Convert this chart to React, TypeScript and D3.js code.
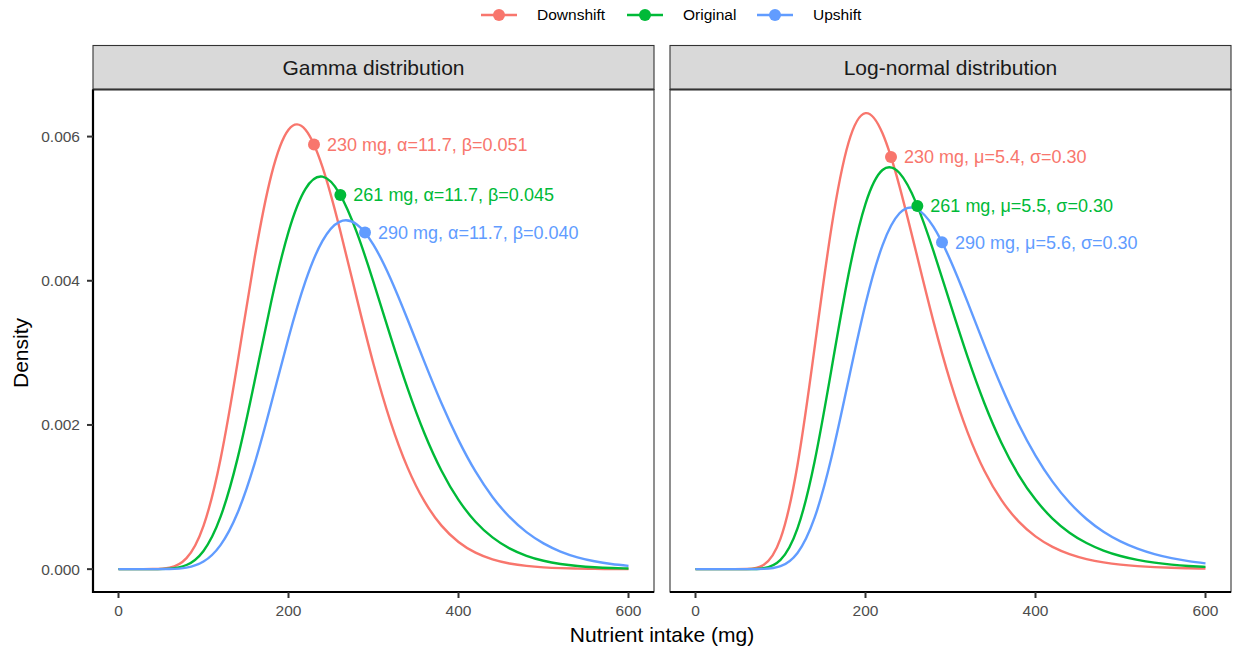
import React from "react";
import * as d3 from "d3";

// intake grid (mg) shared by every curve
const intake = [
  0, 20, 40, 60, 80, 100, 120, 140, 160, 180, 200, 220, 240, 260, 280, 300,
  320, 340, 360, 380, 400, 420, 440, 460, 480, 500, 520, 540, 560, 580, 600,
];

// gamma densities
const gammaDown = [
  0, 0, 0.000001, 0.0000195, 0.000153, 0.000601, 0.001525, 0.002861, 0.004307, 0.005476,
  0.006096, 0.006095, 0.005576, 0.004735, 0.003773, 0.002846, 0.002047, 0.001412, 0.000939,
  0.000604, 0.000377, 0.000229, 0.000136, 0.0000788, 0.0000448, 0.000025, 0.0000137,
  0.0000074, 0.0000039, 0.0000021, 0.0000011,
];
const gammaOrig = [
  0, 0, 0.0000002, 0.0000065, 0.0000572, 0.000253, 0.000724, 0.001533, 0.0026, 0.003728,
  0.004679, 0.005275, 0.005444, 0.00521, 0.004681, 0.003982, 0.003229, 0.002511, 0.001882,
  0.001365, 0.00096, 0.000658, 0.00044, 0.000288, 0.000185, 0.000116, 0.0000719, 0.0000438,
  0.0000263, 0.0000155, 0.0000091,
];
const gammaUp = [
  0, 0, 0, 0.0000022, 0.0000215, 0.000105, 0.000333, 0.000778, 0.001459, 0.002311, 0.003207,
  0.003994, 0.004554, 0.004818, 0.004785, 0.004498, 0.004032, 0.003466, 0.002871, 0.0023,
  0.00179, 0.001355, 0.001002, 0.000724, 0.000513, 0.000357, 0.000244, 0.000164, 0.000109,
  0.0000712, 0.000046,
];

// log-normal densities
const lnormDown = [
  0, 0, 0, 0.0000019, 0.0000568, 0.000423, 0.001445, 0.003061, 0.00474, 0.005914, 0.006325,
  0.006045, 0.00531, 0.004376, 0.003433, 0.002593, 0.001901, 0.001361, 0.000957, 0.000663,
  0.000455, 0.000309, 0.000209, 0.00014, 0.0000938, 0.0000626, 0.0000417, 0.0000278,
  0.0000185, 0.0000123, 0.0000082,
];
const lnormOrig = [
  0, 0, 0, 0.0000003, 0.0000126, 0.000128, 0.000565, 0.001486, 0.002775, 0.004086, 0.005067,
  0.005536, 0.005494, 0.005067, 0.004411, 0.003671, 0.002947, 0.002298, 0.001751, 0.001309,
  0.000965, 0.000702, 0.000506, 0.000362, 0.000257, 0.000182, 0.000128, 0.0000898, 0.0000629,
  0.000044, 0.0000308,
];
const lnormUp = [
  0, 0, 0, 0, 0.0000031, 0.0000412, 0.000225, 0.00071, 0.001551, 0.00262, 0.003677, 0.004491,
  0.004936, 0.004999, 0.004746, 0.004282, 0.003707, 0.003103, 0.002529, 0.002014, 0.001576,
  0.001214, 0.000924, 0.000696, 0.000519, 0.000385, 0.000284, 0.000208, 0.000152, 0.000111,
  0.0000808,
];

const scenarios = ["Downshift", "Original", "Upshift"];
const colors = ["#F8766D", "#00BA38", "#619CFF"];
const meanIntake = [230, 261, 290];
const gammaAtMean = [0.00589, 0.00519, 0.00467];
const lnormAtMean = [0.005717, 0.005038, 0.004534];
const gammaLabels = [
  "230 mg, α=11.7, β=0.051",
  "261 mg, α=11.7, β=0.045",
  "290 mg, α=11.7, β=0.040",
];
const lnormLabels = [
  "230 mg, μ=5.4, σ=0.30",
  "261 mg, μ=5.5, σ=0.30",
  "290 mg, μ=5.6, σ=0.30",
];
const xTicks = [0, 200, 400, 600];
const yTicks = [0, 0.002, 0.004, 0.006];

const font = "'Liberation Sans', Arial, sans-serif";

const panels = [
  { title: "Gamma distribution", left: 93, curves: [gammaDown, gammaOrig, gammaUp], marks: gammaAtMean, labels: gammaLabels },
  { title: "Log-normal distribution", left: 670, curves: [lnormDown, lnormOrig, lnormUp], marks: lnormAtMean, labels: lnormLabels },
];

const panelW = 561;
const top = 89.5;
const bottom = 592;
const stripTop = 45.5;

const y = d3.scaleLinear().domain([-0.000317, 0.006653]).range([bottom, top]);

function Panel({ p, first }: { p: any; first: boolean }) {
  const x = d3.scaleLinear().domain([-30, 630]).range([p.left, p.left + panelW]);
  const line = d3
    .line<number>()
    .x((_, i) => x(intake[i]))
    .y((d) => y(d))
    .curve(d3.curveNatural);
  return (
    <g>
      <rect x={p.left} y={stripTop} width={panelW} height={top - stripTop} fill="#D9D9D9" stroke="#333" strokeWidth={1.1} />
      <text x={p.left + panelW / 2} y={(stripTop + top) / 2 + 7} textAnchor="middle" fontSize={21} fill="#1A1A1A">
        {p.title}
      </text>
      <rect x={p.left} y={top} width={panelW} height={bottom - top} fill="white" stroke="#333" strokeWidth={1.1} />
      <line x1={p.left} x2={p.left + panelW} y1={top} y2={top} stroke="#333" strokeWidth={2} />
      {p.curves.map((c: number[], i: number) => (
        <path key={i} d={line(c) || ""} fill="none" stroke={colors[i]} strokeWidth={2.4} />
      ))}
      {p.marks.map((m: number, i: number) => (
        <g key={i}>
          <circle cx={x(meanIntake[i])} cy={y(m)} r={6} fill={colors[i]} />
          <text x={x(meanIntake[i]) + 13} y={y(m)} dy="0.35em" fontSize={18} fill={colors[i]}>
            {p.labels[i]}
          </text>
        </g>
      ))}
      {/* bottom axis */}
      <line x1={p.left} x2={p.left + panelW} y1={bottom} y2={bottom} stroke="black" strokeWidth={2.2} />
      {xTicks.map((t) => (
        <g key={t}>
          <line x1={x(t)} x2={x(t)} y1={bottom} y2={bottom + 6} stroke="#333" strokeWidth={2} />
          <text x={x(t)} y={bottom + 24} textAnchor="middle" fontSize={15.5} fill="#4D4D4D">
            {t}
          </text>
        </g>
      ))}
      {first && (
        <g>
          <line x1={p.left} x2={p.left} y1={top} y2={bottom + 1} stroke="black" strokeWidth={2.2} />
          {yTicks.map((t) => (
            <g key={t}>
              <line x1={p.left - 6} x2={p.left} y1={y(t)} y2={y(t)} stroke="#333" strokeWidth={2} />
              <text x={p.left - 13} y={y(t)} dy="0.35em" textAnchor="end" fontSize={15.5} fill="#4D4D4D">
                {d3.format(".3f")(t)}
              </text>
            </g>
          ))}
        </g>
      )}
    </g>
  );
}

export default function App() {
  const legendX = [481, 627, 757];
  return (
    <svg width={1235} height={649} style={{ position: "absolute", left: 0, top: 0, fontFamily: font }}>
      <rect width={1235} height={649} fill="white" />
      {scenarios.map((s, i) => (
        <g key={s}>
          <line x1={legendX[i]} x2={legendX[i] + 36} y1={15} y2={15} stroke={colors[i]} strokeWidth={2.4} />
          <circle cx={legendX[i] + 18} cy={15} r={6} fill={colors[i]} />
          <text x={legendX[i] + 56} y={15} dy="0.35em" fontSize={15.5} fill="black">
            {s}
          </text>
        </g>
      ))}
      {panels.map((p, i) => (
        <Panel key={p.title} p={p} first={i === 0} />
      ))}
      <text x={662} y={642} textAnchor="middle" fontSize={21} fill="black">
        Nutrient intake (mg)
      </text>
      <text transform="translate(28,353) rotate(-90)" textAnchor="middle" fontSize={21} fill="black">
        Density
      </text>
    </svg>
  );
}
